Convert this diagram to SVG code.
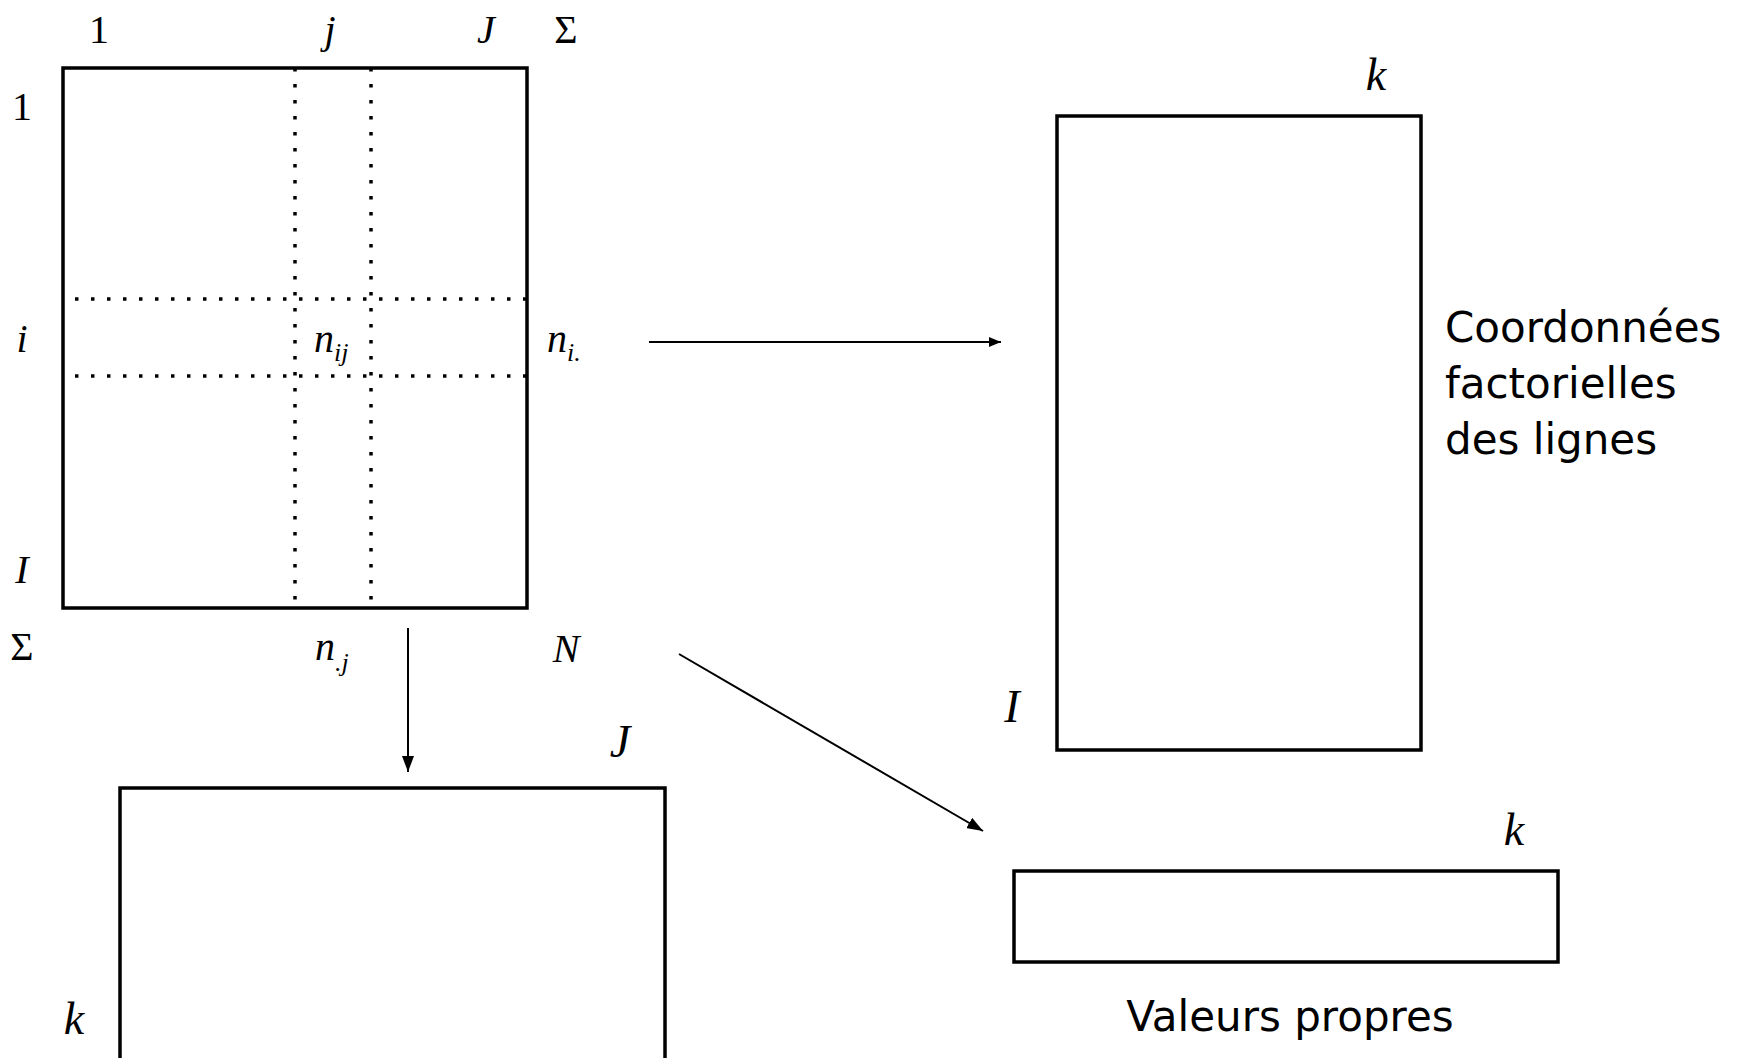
<svg xmlns="http://www.w3.org/2000/svg" width="1743" height="1058" viewBox="0 0 1743 1058">
<style>
.box{fill:none;stroke:#000;stroke-width:3.5}
.dot{stroke:#000;stroke-width:3.5;stroke-dasharray:3.5 12.5;fill:none}
.m{font-family:"Liberation Serif","DejaVu Serif",serif;font-size:40px;fill:#000}
.mi{font-family:"Liberation Serif","DejaVu Serif",serif;font-size:40px;font-style:italic;fill:#000}
.sub{font-size:26px}
.big{font-family:"Liberation Serif","DejaVu Serif",serif;font-size:46px;font-style:italic;fill:#000}
.lbl{font-family:"DejaVu Sans","Liberation Sans",sans-serif;font-size:42px;fill:#000}
.con{stroke:#000;stroke-width:2;fill:none}
</style>
<defs>
<marker id="ah" viewBox="0 0 12 10" refX="12" refY="5" markerWidth="12" markerHeight="10" markerUnits="userSpaceOnUse" orient="auto">
<path d="M0,0 L12,5 L0,10 Z" fill="#000"/>
</marker>
<marker id="ahd" viewBox="0 0 16 12" refX="16" refY="6" markerWidth="16" markerHeight="12" markerUnits="userSpaceOnUse" orient="auto">
<path d="M0,0 L16,6 L0,12 Z" fill="#000"/>
</marker>
</defs>

<g id="matrix">
<rect class="box" x="63" y="68" width="464" height="540"/>
<line class="dot" x1="295" y1="68" x2="295" y2="608"/>
<line class="dot" x1="371" y1="68" x2="371" y2="608"/>
<line class="dot" x1="75" y1="299" x2="527" y2="299"/>
<line class="dot" x1="75" y1="376" x2="527" y2="376"/>
<text class="m" x="99" y="43" text-anchor="middle">1</text>
<text class="mi" x="330" y="43" text-anchor="middle">j</text>
<text class="mi" x="486" y="43" text-anchor="middle">J</text>
<text class="m" x="566" y="43" text-anchor="middle">Σ</text>
<text class="m" x="22" y="120" text-anchor="middle">1</text>
<text class="mi" x="22" y="352" text-anchor="middle">i</text>
<text class="mi" x="22" y="583" text-anchor="middle">I</text>
<text class="m" x="22" y="660" text-anchor="middle">Σ</text>
<text class="mi" x="314" y="352">n<tspan class="sub" dy="9">ij</tspan></text>
<text class="mi" x="547" y="352">n<tspan class="sub" dy="9">i.</tspan></text>
<text class="mi" x="315" y="660">n<tspan class="sub" dy="11">.j</tspan></text>
<text class="mi" x="566" y="662" text-anchor="middle">N</text>
</g>

<g id="row-coords">
<rect class="box" x="1057" y="116" width="364" height="634"/>
<text class="big" x="1376" y="90" text-anchor="middle">k</text>
<text class="big" x="1012" y="722" text-anchor="middle">I</text>
<text class="lbl" x="1445" y="342">Coordonnées</text>
<text class="lbl" x="1445" y="398">factorielles</text>
<text class="lbl" x="1445" y="454">des lignes</text>
</g>

<g id="col-coords">
<rect class="box" x="120" y="788" width="545" height="300"/>
<text class="big" x="620" y="757" text-anchor="middle">J</text>
<text class="big" x="74" y="1034" text-anchor="middle">k</text>
</g>

<g id="eigenvalues">
<rect class="box" x="1014" y="871" width="544" height="91"/>
<text class="big" x="1514" y="845" text-anchor="middle">k</text>
<text class="lbl" x="1290" y="1031" text-anchor="middle">Valeurs propres</text>
</g>

<g id="connectors">
<line class="con" x1="649" y1="342" x2="1001" y2="342" marker-end="url(#ah)"/>
<line class="con" x1="408" y1="628" x2="408" y2="772" marker-end="url(#ahd)"/>
<line class="con" x1="679" y1="654" x2="983" y2="831" marker-end="url(#ahd)"/>
</g>
</svg>
